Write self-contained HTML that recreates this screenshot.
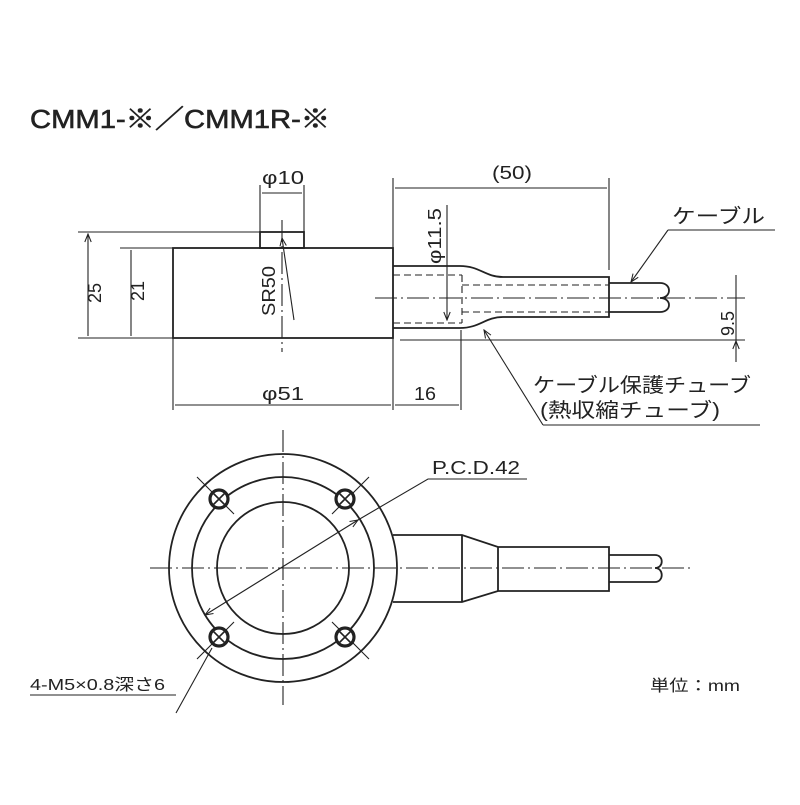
<!DOCTYPE html>
<html><head><meta charset="utf-8"><style>
body{margin:0;background:#fff}
svg text{font-family:"Liberation Sans","Noto Sans CJK JP",sans-serif;fill:#222}
</style></head><body>
<svg width="800" height="800" viewBox="0 0 800 800" xmlns="http://www.w3.org/2000/svg">
<defs>
<marker id="a" viewBox="0 0 10 10" refX="10" refY="5" markerWidth="10" markerHeight="8" orient="auto-start-reverse" markerUnits="userSpaceOnUse"><path d="M0,1 L10,5 L0,9" fill="none" stroke="#222" stroke-width="1.3"/></marker>
</defs>
<text x="30" y="128" font-size="26" textLength="300" lengthAdjust="spacingAndGlyphs" stroke="#222" stroke-width="0.6">CMM1-※／CMM1R-※</text>
<g stroke="#222" fill="none" stroke-width="1.8">
<rect x="173" y="248" width="220" height="90"/>
<rect x="260" y="232" width="44" height="16"/>
<path d="M393,266 H460 C480,266 485,277 503,277 H609 V317 H503 C485,317 480,328 460,328 H393"/>
<path d="M609,283 H660 M609,312 H660 M660,283 C672,283 672,298 660,298 C672,298 672,312 660,312"/>
</g>
<g stroke="#222" fill="none" stroke-width="1.1">
<path d="M393,275 H462 M393,323 H462 M462,275 V323 M462,285 H609 M462,312 H609" stroke-dasharray="7,4"/>
<path d="M375,298 H745 M282,220 V352" stroke-dasharray="22,4,2,4"/>
<path d="M78,232 H260 M120,248 H173 M78,338 H173 M400,340 H745 M260,185 V232 M304,185 V232 M393,178 V410 M609,178 V270 M173,338 V410 M461,330 V410"/>
<path d="M88,234 V336 M131,250 V336 M262,193 H302 M395,188 H607 M175,405 H391 M395,405 H459 M447,277 V320" marker-start="url(#a)" marker-end="url(#a)"/>
<path d="M447,205 V277"/>
<path d="M736,275 V297 M736,362 V341" marker-end="url(#a)"/>
<path d="M736,297 V341"/>
<path d="M294,320 L282,238" marker-end="url(#a)"/>
<path d="M668,230 H775"/>
<path d="M668,230 L631,282" marker-end="url(#a)"/>
<path d="M543,425 L484,330" marker-end="url(#a)"/>
<path d="M543,425 H760"/>
<path d="M150,568 H690 M283,430 V705" stroke-dasharray="22,4,2,4"/>
<path d="M197,477 L234,514 M369,477 L332,514 M197,659 L234,622 M369,659 L332,622"/>
<path d="M205,615 L358,520" marker-start="url(#a)" marker-end="url(#a)"/>
<path d="M358,520 L428,479 H527"/>
<path d="M212,648 L176,713 M30,695 H176"/>
</g>
<g stroke="#222" fill="none" stroke-width="1.8">
<circle cx="283" cy="568" r="114"/>
<circle cx="283" cy="568" r="91"/>
<circle cx="283" cy="568" r="66"/>
<path d="M393,535 H462 L498,547 H609 V591 H498 L462,602 H393 M462,535 V602 M498,547 V591"/>
<path d="M609,555 H655 M609,582 H655 M655,555 C664,555 664,568 655,568 C664,568 664,582 655,582"/>
</g>
<g stroke="#222" fill="#fff" stroke-width="3.2">
<circle cx="219" cy="499" r="9"/><circle cx="345" cy="499" r="9"/>
<circle cx="219" cy="637" r="9"/><circle cx="345" cy="637" r="9"/>
</g>
<g stroke="#222" stroke-width="1.6">
<path d="M213,493 L225,505 M225,493 L213,505 M339,493 L351,505 M351,493 L339,505 M213,631 L225,643 M225,631 L213,643 M339,631 L351,643 M351,631 L339,643"/>
</g>
<g font-size="18">
<text x="262" y="184" textLength="42" lengthAdjust="spacingAndGlyphs">φ10</text>
<text x="492" y="179" textLength="40" lengthAdjust="spacingAndGlyphs">(50)</text>
<text x="262" y="400" textLength="42" lengthAdjust="spacingAndGlyphs">φ51</text>
<text x="414" y="400" textLength="22" lengthAdjust="spacingAndGlyphs">16</text>
<text transform="translate(101,303) rotate(-90)">25</text>
<text transform="translate(144,301) rotate(-90)">21</text>
<text transform="translate(275,316) rotate(-90)" textLength="50" lengthAdjust="spacingAndGlyphs">SR50</text>
<text transform="translate(441,264) rotate(-90)" textLength="56" lengthAdjust="spacingAndGlyphs">φ11.5</text>
<text transform="translate(734,336) rotate(-90)">9.5</text>
<text x="672" y="223" font-size="20" textLength="93" lengthAdjust="spacingAndGlyphs">ケーブル</text>
<text x="533" y="392" font-size="20" textLength="218" lengthAdjust="spacingAndGlyphs">ケーブル保護チューブ</text>
<text x="540" y="417" font-size="20" textLength="180" lengthAdjust="spacingAndGlyphs">(熱収縮チューブ)</text>
<text x="432" y="474" textLength="88" lengthAdjust="spacingAndGlyphs">P.C.D.42</text>
<text x="30" y="690" font-size="16" textLength="135" lengthAdjust="spacingAndGlyphs">4-M5×0.8深さ6</text>
<text x="650" y="691" font-size="16" textLength="90" lengthAdjust="spacingAndGlyphs">単位：mm</text>
</g>
</svg>
</body></html>
